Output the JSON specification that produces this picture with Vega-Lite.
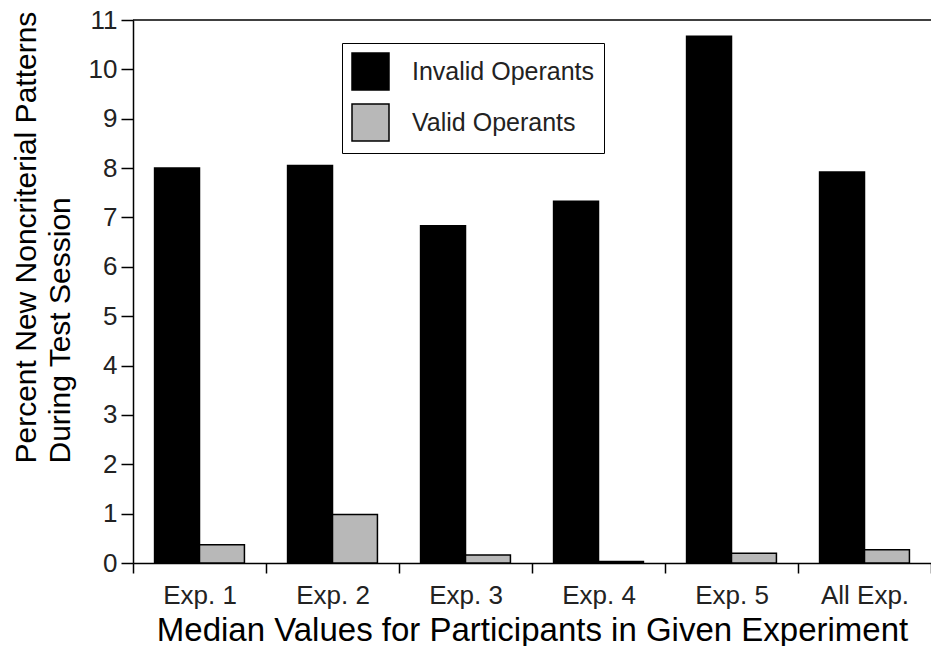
{
  "$schema": "https://vega.github.io/schema/vega-lite/v6.json",
  "width": 798,
  "height": 543,
  "autosize": {"type": "none"},
  "padding": {"left": 133, "top": 20, "right": 0, "bottom": 83},
  "background": "white",
  "config": {"font": "Liberation Sans", "view": {"stroke": null}},
  "data": {
    "values": [
      {"experiment": "Exp. 1", "operant": "Invalid Operants", "value": 8.0},
      {"experiment": "Exp. 1", "operant": "Valid Operants", "value": 0.37},
      {"experiment": "Exp. 2", "operant": "Invalid Operants", "value": 8.05},
      {"experiment": "Exp. 2", "operant": "Valid Operants", "value": 0.98},
      {"experiment": "Exp. 3", "operant": "Invalid Operants", "value": 6.83},
      {"experiment": "Exp. 3", "operant": "Valid Operants", "value": 0.16},
      {"experiment": "Exp. 4", "operant": "Invalid Operants", "value": 7.33},
      {"experiment": "Exp. 4", "operant": "Valid Operants", "value": 0.03},
      {"experiment": "Exp. 5", "operant": "Invalid Operants", "value": 10.67},
      {"experiment": "Exp. 5", "operant": "Valid Operants", "value": 0.2},
      {"experiment": "All Exp.", "operant": "Invalid Operants", "value": 7.92},
      {"experiment": "All Exp.", "operant": "Valid Operants", "value": 0.27}
    ]
  },
  "layer": [
    {
      "mark": {"type": "bar", "stroke": "black", "strokeWidth": 1.5},
      "encoding": {
        "x": {
          "field": "experiment",
          "type": "nominal",
          "sort": null,
          "scale": {"paddingInner": 0, "paddingOuter": 0},
          "title": "Median Values for Participants in Given Experiment",
          "axis": {
            "domainColor": "black",
            "domainWidth": 1.5,
            "tickBand": "extent",
            "tickSize": 10,
            "tickColor": "black",
            "tickWidth": 1.5,
            "labelFontSize": 26,
            "labelColor": "#222",
            "labelAngle": 0,
            "labelBaseline": "alphabetic",
            "labelPadding": 30,
            "titleFontSize": 33,
            "titleFontWeight": "normal",
            "titleColor": "black",
            "titleBaseline": "alphabetic",
            "titleY": 77
          }
        },
        "xOffset": {
          "field": "operant",
          "type": "nominal",
          "sort": null,
          "scale": {"paddingInner": 0, "paddingOuter": 0.48}
        },
        "y": {
          "field": "value",
          "type": "quantitative",
          "scale": {"domain": [0, 11], "nice": false},
          "axis": {
            "values": [0, 1, 2, 3, 4, 5, 6, 7, 8, 9, 10, 11],
            "grid": false,
            "domainColor": "black",
            "domainWidth": 1.5,
            "tickColor": "black",
            "tickWidth": 1.5,
            "tickSize": 12,
            "labelFontSize": 26,
            "labelPadding": 4,
            "labelColor": "#222",
            "title": ["Percent New Noncriterial Patterns", "During Test Session"],
            "titleFontSize": 30,
            "titleFontWeight": "normal",
            "titleColor": "black",
            "titleAngle": -90,
            "titleAlign": "left",
            "titleBaseline": "alphabetic",
            "titleX": -98,
            "titleY": 443,
            "titleLineHeight": 34
          }
        },
        "color": {
          "field": "operant",
          "type": "nominal",
          "scale": {
            "domain": ["Invalid Operants", "Valid Operants"],
            "range": ["black", "#b8b8b8"]
          },
          "legend": {
            "title": null,
            "orient": "none",
            "legendX": 209,
            "legendY": 23,
            "direction": "vertical",
            "symbolType": "square",
            "symbolSize": 1369,
            "symbolStrokeColor": "black",
            "symbolStrokeWidth": 1.5,
            "symbolOpacity": 1,
            "labelFontSize": 25,
            "labelLimit": 400,
            "labelColor": "#222",
            "labelOffset": 22,
            "rowPadding": 8,
            "padding": 9,
            "strokeColor": "black",
            "fillColor": "white"
          }
        }
      }
    },
    {
      "data": {"values": [{}]},
      "mark": {"type": "rule", "color": "black", "strokeWidth": 1.5},
      "encoding": {"y": {"datum": 11}}
    }
  ]
}
